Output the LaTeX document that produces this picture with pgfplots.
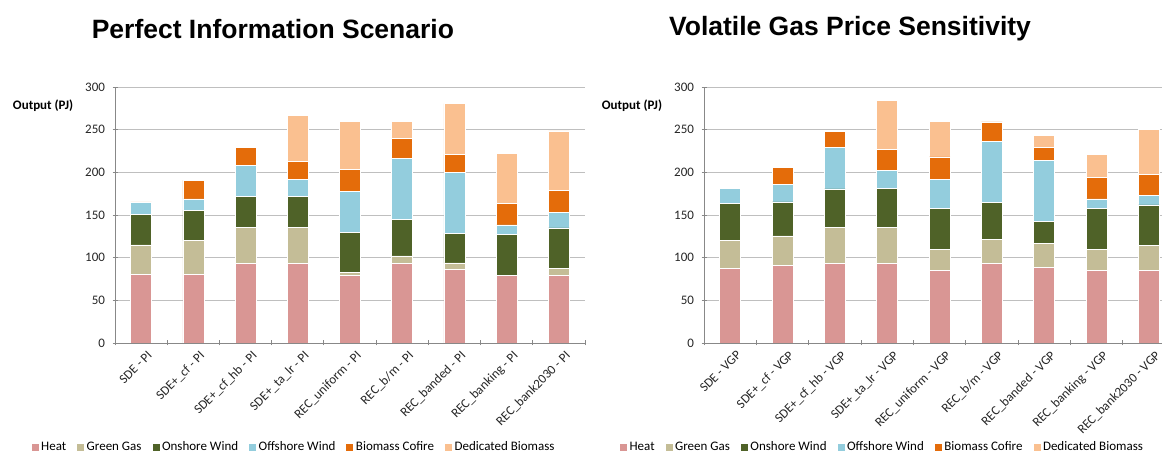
\documentclass[border=0pt]{standalone}
\usepackage{fontspec}
\setmainfont{Carlito}
\newfontfamily\titlefont{Liberation Sans}
\usepackage{pgfplots}
\usepackage{pgfplotstable}
\pgfplotsset{compat=1.18}
\definecolor{cheat}{HTML}{D99694}
\definecolor{cgas}{HTML}{C4BD97}
\definecolor{con}{HTML}{4F6228}
\definecolor{coff}{HTML}{93CDDD}
\definecolor{ccof}{HTML}{E46C0A}
\definecolor{cded}{HTML}{FAC090}
\definecolor{cgrid}{HTML}{BFBFBF}
\definecolor{caxis}{HTML}{888888}

\pgfplotstableread{
x heat gas on off cof ded
1 80.5 34.5 36 13.5 0 1
2 80.5 39.5 35.5 13.5 21.5 0
3 93.5 42 36.5 36.5 21 0.5
4 93.5 42 36.5 20 20.5 54
5 79 4 47 48 25.5 56
6 93.5 8.5 42.5 72 23 20.5
7 86 8 34.5 71.5 21 59.5
8 79.5 0 48 11 25 58.5
9 79 8.5 47.5 18 25.5 70
}\tablePI

\pgfplotstableread{
x heat gas on off cof ded
1 87.5 33 43.5 17 0.5 0
2 91 34.5 40 20 20 0
3 93.5 42 45 48.5 19 0
4 93.5 42 46 21 24 58
5 85 25 48 34 26 41.5
6 93.5 28 43.5 71.5 22.5 1
7 88.5 28.5 25.5 71.5 15.5 14
8 85 25 48 11 25.5 26.5
9 85 29 48 11 25 52.5
}\tableVGP

\pgfplotsset{
  mystyle/.style={
    ybar stacked, bar width=21pt,
    scale only axis, height=256pt,
    xmin=0.5, xmax=9.5, ymin=0, ymax=300,
    ytick={0,50,...,300},
    xtick={1,...,9},
    minor xtick={0.5,1.5,...,9.5},
    major x tick style={draw=none},
    minor x tick style={draw=caxis, line width=0.8pt},
    minor tick length=5pt,
    major tick length=5pt,
    y tick style={draw=caxis, line width=0.8pt},
    tick align=outside,
    axis lines=left,
    axis line style={-, draw=caxis, line width=0.8pt},
    ymajorgrids,
    grid style={cgrid, line width=0.9pt},
    /pgf/number format/assume math mode=true,
    ticklabel style={font=\fontsize{13}{15}\selectfont, text=black!85},
    yticklabel style={xshift=-4pt},
    xticklabel style={rotate=45, anchor=north east, inner sep=1pt, yshift=-6pt, xshift=2pt},
    every axis y label/.style={at={(axis description cs:-0.153,0.926)}, anchor=center, font=\bfseries\fontsize{13}{15}\selectfont},
    ylabel={Output (PJ)},
    title style={anchor=center, font=\titlefont\bfseries\fontsize{26.5}{30}\selectfont},
    legend style={anchor=center, draw=none, legend columns=6, font=\fontsize{13}{15}\selectfont,
      /tikz/every even column/.append style={column sep=8pt}, inner sep=0pt},
    legend image code/.code={\fill[##1] (0pt,-4pt) rectangle (8pt,4pt);},
    every axis plot/.append style={draw=white, line width=0.5pt},
  }
}

\begin{document}
\begin{tikzpicture}
\useasboundingbox (0,0) rectangle (1162pt,454pt);
\begin{axis}[mystyle, width=470pt, at={(115pt,111pt)}, anchor=south west,
  title={Perfect Information Scenario}, title style={at={(0.336,1.203)}},
  xticklabels={SDE - PI, SDE+\_cf - PI, SDE+\_cf\_hb - PI, SDE+\_ta\_lr - PI, REC\_uniform - PI, REC\_b/m - PI, REC\_banded - PI, REC\_banking - PI, REC\_bank2030 - PI},
  legend style={at={(0.38,-0.406)}}]
\addplot[fill=cheat] table[x=x,y=heat]{\tablePI};
\addplot[fill=cgas] table[x=x,y=gas]{\tablePI};
\addplot[fill=con] table[x=x,y=on]{\tablePI};
\addplot[fill=coff] table[x=x,y=off]{\tablePI};
\addplot[fill=ccof] table[x=x,y=cof]{\tablePI};
\addplot[fill=cded] table[x=x,y=ded]{\tablePI};
\legend{Heat, Green Gas, Onshore Wind, Offshore Wind, Biomass Cofire, Dedicated Biomass}
\end{axis}
\begin{axis}[mystyle, width=471pt, at={(704pt,111pt)}, anchor=south west,
  title={Volatile Gas Price Sensitivity}, title style={at={(0.31,1.203)}},
  xticklabels={SDE - VGP, SDE+\_cf - VGP, SDE+\_cf\_hb - VGP, SDE+\_ta\_lr - VGP, REC\_uniform - VGP, REC\_b/m - VGP, REC\_banded - VGP, REC\_banking - VGP, REC\_bank2030 - VGP},
  legend style={at={(0.378,-0.406)}}]
\addplot[fill=cheat] table[x=x,y=heat]{\tableVGP};
\addplot[fill=cgas] table[x=x,y=gas]{\tableVGP};
\addplot[fill=con] table[x=x,y=on]{\tableVGP};
\addplot[fill=coff] table[x=x,y=off]{\tableVGP};
\addplot[fill=ccof] table[x=x,y=cof]{\tableVGP};
\addplot[fill=cded] table[x=x,y=ded]{\tableVGP};
\legend{Heat, Green Gas, Onshore Wind, Offshore Wind, Biomass Cofire, Dedicated Biomass}
\end{axis}
\end{tikzpicture}
\end{document}
